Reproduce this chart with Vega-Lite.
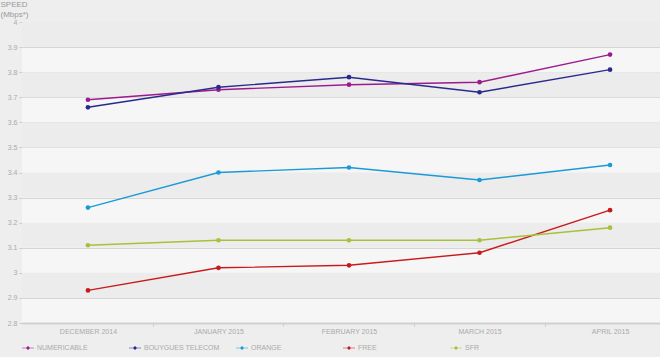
{
  "$schema": "https://vega.github.io/schema/vega-lite/v6.json",
  "width": 638,
  "height": 301,
  "autosize": {"type": "none"},
  "padding": {"left": 22, "top": 22, "right": 0, "bottom": 34},
  "background": "#eeeeee",
  "config": {
    "view": {"fill": "#f6f6f6", "stroke": null},
    "font": "Liberation Sans",
    "axisY": {
      "titleAngle": 0,
      "titleAlign": "left",
      "titleBaseline": "alphabetic",
      "titleX": -22,
      "titleY": -16,
      "titleFontSize": 8,
      "titleFontWeight": "normal",
      "titleColor": "#999999",
      "titleLineHeight": 10,
      "labelFontSize": 7,
      "labelColor": "#aaaaaa",
      "labelPadding": 2,
      "labelOverlap": false,
      "labelFlush": false,
      "tickSize": 3,
      "tickColor": "#cccccc",
      "tickCount": 12,
      "domain": false,
      "grid": true,
      "gridColor": "#d6d6d6",
      "gridWidth": 1,
      "zindex": 1
    },
    "axisX": {
      "labelAngle": 0,
      "labelFontSize": 7,
      "labelColor": "#aaaaaa",
      "labelPadding": 1,
      "labelOffset": -65,
      "tickSize": 3,
      "tickColor": "#cccccc",
      "tickOffset": 65,
      "domainColor": "#cfcfcf",
      "domainWidth": 2,
      "grid": false,
      "zindex": 1
    }
  },
  "datasets": {
    "speeds": [
      {"month": "DECEMBER 2014", "operator": "NUMERICABLE", "speed": 3.69},
      {"month": "JANUARY 2015", "operator": "NUMERICABLE", "speed": 3.73},
      {"month": "FEBRUARY 2015", "operator": "NUMERICABLE", "speed": 3.75},
      {"month": "MARCH 2015", "operator": "NUMERICABLE", "speed": 3.76},
      {"month": "APRIL 2015", "operator": "NUMERICABLE", "speed": 3.87},
      {"month": "DECEMBER 2014", "operator": "BOUYGUES TELECOM", "speed": 3.66},
      {"month": "JANUARY 2015", "operator": "BOUYGUES TELECOM", "speed": 3.74},
      {"month": "FEBRUARY 2015", "operator": "BOUYGUES TELECOM", "speed": 3.78},
      {"month": "MARCH 2015", "operator": "BOUYGUES TELECOM", "speed": 3.72},
      {"month": "APRIL 2015", "operator": "BOUYGUES TELECOM", "speed": 3.81},
      {"month": "DECEMBER 2014", "operator": "ORANGE", "speed": 3.26},
      {"month": "JANUARY 2015", "operator": "ORANGE", "speed": 3.40},
      {"month": "FEBRUARY 2015", "operator": "ORANGE", "speed": 3.42},
      {"month": "MARCH 2015", "operator": "ORANGE", "speed": 3.37},
      {"month": "APRIL 2015", "operator": "ORANGE", "speed": 3.43},
      {"month": "DECEMBER 2014", "operator": "FREE", "speed": 2.93},
      {"month": "JANUARY 2015", "operator": "FREE", "speed": 3.02},
      {"month": "FEBRUARY 2015", "operator": "FREE", "speed": 3.03},
      {"month": "MARCH 2015", "operator": "FREE", "speed": 3.08},
      {"month": "APRIL 2015", "operator": "FREE", "speed": 3.25},
      {"month": "DECEMBER 2014", "operator": "SFR", "speed": 3.11},
      {"month": "JANUARY 2015", "operator": "SFR", "speed": 3.13},
      {"month": "FEBRUARY 2015", "operator": "SFR", "speed": 3.13},
      {"month": "MARCH 2015", "operator": "SFR", "speed": 3.13},
      {"month": "APRIL 2015", "operator": "SFR", "speed": 3.18}
    ],
    "bands": [
      {"lo": 2.9, "hi": 3.0},
      {"lo": 3.1, "hi": 3.2},
      {"lo": 3.3, "hi": 3.4},
      {"lo": 3.5, "hi": 3.6},
      {"lo": 3.7, "hi": 3.8},
      {"lo": 3.9, "hi": 4.0}
    ]
  },
  "layer": [
    {
      "data": {"name": "bands"},
      "mark": {"type": "rect", "color": "#ececec"},
      "encoding": {
        "y": {
          "field": "lo",
          "type": "quantitative",
          "scale": {"domain": [2.8, 4], "nice": false, "zero": false},
          "axis": {
            "title": ["SPEED", "(Mbps*)"],
            "tickCount": 12,
            "format": ".1~f"
          }
        },
        "y2": {"field": "hi"}
      }
    },
    {
      "data": {"name": "speeds"},
      "mark": {"type": "line", "strokeWidth": 1.4},
      "encoding": {
        "x": {
          "field": "month",
          "type": "ordinal",
          "sort": null,
          "scale": {"type": "point", "padding": 0.444, "align": 0.569},
          "axis": {"title": null}
        },
        "y": {
          "field": "speed",
          "type": "quantitative",
          "axis": {
            "title": ["SPEED", "(Mbps*)"],
            "tickCount": 12,
            "format": ".1~f"
          }
        },
        "color": {
          "field": "operator",
          "type": "nominal",
          "sort": null,
          "scale": {
            "domain": ["NUMERICABLE", "BOUYGUES TELECOM", "ORANGE", "FREE", "SFR"],
            "range": ["#9c1a8e", "#2a2a8e", "#1a9ad6", "#c81a1a", "#a5c23a"]
          },
          "legend": {
            "title": null,
            "orient": "none",
            "legendX": 0,
            "legendY": 320,
            "direction": "horizontal",
            "columns": 5,
            "gridAlign": "all",
            "columnPadding": 16,
            "symbolType": "M-1,-0.06H1V0.06H-1Z M0,-0.35L0.35,0L0,0.35L-0.35,0Z",
            "symbolSize": 144,
            "symbolStrokeWidth": 0,
            "labelFontSize": 7,
            "labelColor": "#aaaaaa",
            "labelOffset": 3
          }
        }
      }
    },
    {
      "data": {"name": "speeds"},
      "mark": {"type": "point", "filled": true, "size": 22, "opacity": 1},
      "encoding": {
        "x": {"field": "month", "type": "ordinal", "sort": null},
        "y": {"field": "speed", "type": "quantitative"},
        "color": {"field": "operator", "type": "nominal", "sort": null}
      }
    }
  ]
}
